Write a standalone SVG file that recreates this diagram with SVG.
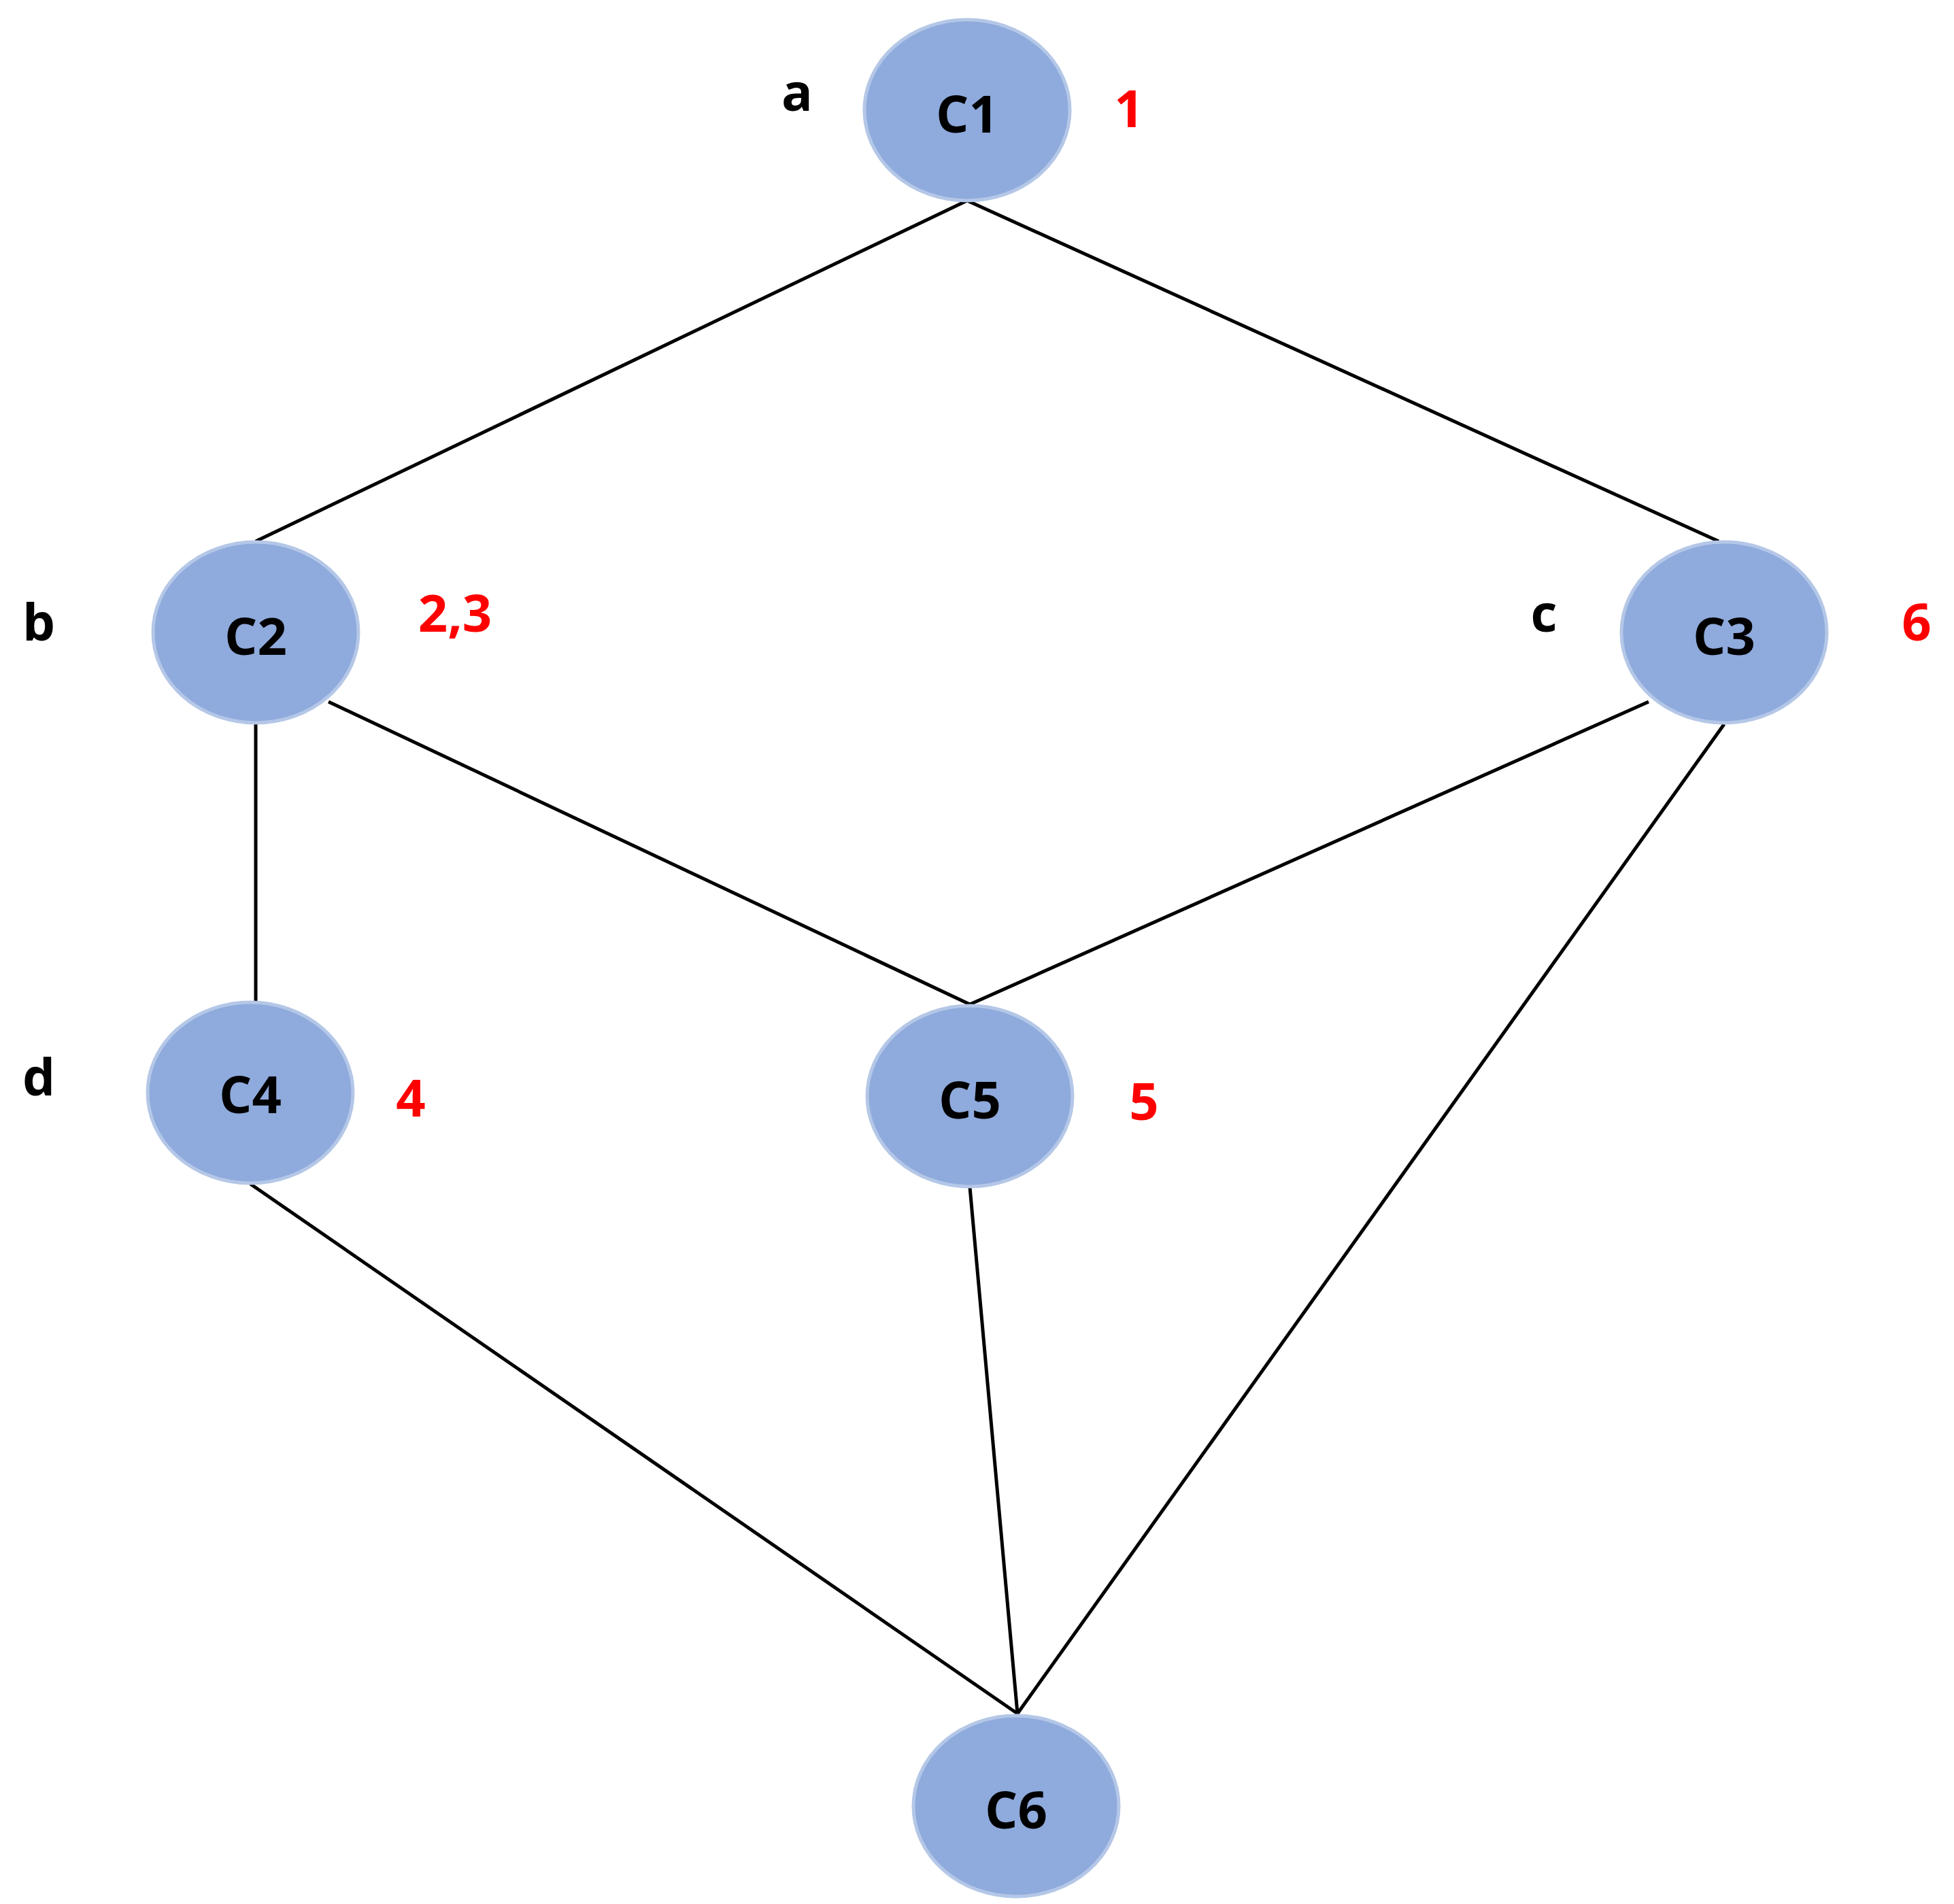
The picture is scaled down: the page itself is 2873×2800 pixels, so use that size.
<svg xmlns="http://www.w3.org/2000/svg" width="2873" height="2800" viewBox="0 0 2873 2800">
<style>
.n{fill:#8FAADC;stroke:#B4C7E7;stroke-width:5}
.t{font-family:"Open Sans","Liberation Sans",sans-serif;font-weight:bold;font-size:76px;text-anchor:middle;dominant-baseline:central;fill:#000}
.r{fill:#FF0000}
.e{stroke:#000;stroke-width:5;fill:none}
</style>
<rect width="2873" height="2800" fill="#fff"/>
<g id="edges">
<line class="e" x1="1422" y1="295" x2="376" y2="796"/>
<line class="e" x1="1422" y1="295" x2="2527" y2="796"/>
<line class="e" x1="483" y1="1032" x2="1426" y2="1477"/>
<line class="e" x1="2424" y1="1032" x2="1426" y2="1477"/>
<line class="e" x1="376" y1="1065" x2="376" y2="1474"/>
<line class="e" x1="368" y1="1741" x2="1496" y2="2520"/>
<line class="e" x1="1426" y1="1746" x2="1496" y2="2520"/>
<line class="e" x1="2535" y1="1065" x2="1496" y2="2520"/>
</g>
<g id="C1"><ellipse class="n" cx="1422" cy="162" rx="151" ry="133"/><text class="t" x="1422" y="165">C1</text></g>
<g id="C2"><ellipse class="n" cx="376" cy="930" rx="151" ry="133"/><text class="t" x="376" y="933">C2</text></g>
<g id="C3"><ellipse class="n" cx="2535" cy="930" rx="151" ry="133"/><text class="t" x="2535" y="933">C3</text></g>
<g id="C4"><ellipse class="n" cx="368" cy="1607" rx="151" ry="133"/><text class="t" x="368" y="1607">C4</text></g>
<g id="C5"><ellipse class="n" cx="1426" cy="1612" rx="151" ry="133"/><text class="t" x="1426" y="1615">C5</text></g>
<g id="C6"><ellipse class="n" cx="1494" cy="2656" rx="151" ry="133"/><text class="t" x="1494" y="2659">C6</text></g>
<g id="labels">
<text class="t" x="1172" y="133">a</text>
<text class="t" x="57" y="912">b</text>
<text class="t" x="2270" y="899">c</text>
<text class="t" x="57" y="1581">d</text>
<text class="t r" x="1660" y="157">1</text>
<text class="t r" x="669" y="899">2,3</text>
<text class="t r" x="2818" y="912">6</text>
<text class="t r" x="604" y="1612">4</text>
<text class="t r" x="1682" y="1617">5</text>
</g>
</svg>
